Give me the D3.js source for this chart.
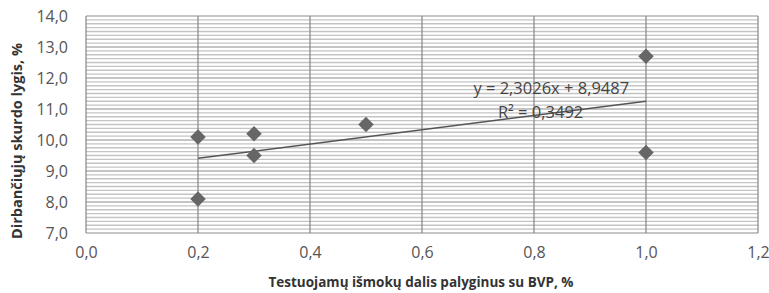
<!DOCTYPE html>
<html>
<head>
<meta charset="utf-8">
<script src="https://cdn.jsdelivr.net/npm/d3@7"></script>
<style>
  body { margin: 0; background: #fff; }
  svg { display: block; }
  text { font-family: "Open Sans", "Noto Sans", sans-serif; }
</style>
</head>
<body>
<div id="chart"></div>
<script>
// data
const xValues = [0.2, 0.2, 0.3, 0.3, 0.5, 1.0, 1.0];
const yValues = [10.1, 8.1, 10.2, 9.5, 10.5, 12.7, 9.6];
const xTicks = [0, 0.2, 0.4, 0.6, 0.8, 1.0, 1.2];
const yTicks = [7, 8, 9, 10, 11, 12, 13, 14];
const trendSlope = 2.3026;
const trendIntercept = 8.9487;
const trendR2 = 0.3492;
const xTitle = "Testuojamų išmokų dalis palyginus su BVP, %";
const yTitle = "Dirbančiųjų skurdo lygis, %";

const width = 769, height = 293;
const margin = {top: 16, right: 11, bottom: 60, left: 86};
const w = width - margin.left - margin.right;
const h = height - margin.top - margin.bottom;

const fmt = d => d3.format(".1f")(d).replace(".", ",");

const svg = d3.select("#chart").append("svg")
  .attr("width", width)
  .attr("height", height);

const g = svg.append("g")
  .attr("transform", "translate(" + margin.left + "," + margin.top + ")");

const x = d3.scaleLinear().domain([0, 1.2]).range([0, w]);
const y = d3.scaleLinear().domain([7, 14]).range([h, 0]);

// minor horizontal grid
const minor = d3.range(7, 14, 0.125).filter(v => Math.abs(v - Math.round(v)) > 1e-6);
g.append("g").selectAll("line").data(minor).enter().append("line")
  .attr("x1", 0).attr("x2", w)
  .attr("y1", d => y(d)).attr("y2", d => y(d))
  .attr("stroke", "#c4c4c4").attr("stroke-width", 1.3);

// major horizontal grid
g.append("g").selectAll("line").data(yTicks).enter().append("line")
  .attr("x1", 0).attr("x2", w)
  .attr("y1", d => y(d)).attr("y2", d => y(d))
  .attr("stroke", "#8c8c8c").attr("stroke-width", 1.2);

// vertical grid
g.append("g").selectAll("line").data(xTicks).enter().append("line")
  .attr("x1", d => x(d)).attr("x2", d => x(d))
  .attr("y1", 0).attr("y2", h)
  .attr("stroke", "#858585").attr("stroke-width", 1.2);

// axes (labels only)
const xAxis = g.append("g")
  .attr("transform", "translate(0," + h + ")")
  .call(d3.axisBottom(x).tickValues(xTicks).tickFormat(fmt).tickSize(0).tickPadding(14));
const yAxis = g.append("g")
  .call(d3.axisLeft(y).tickValues(yTicks).tickFormat(fmt).tickSize(0).tickPadding(18));
[xAxis, yAxis].forEach(a => {
  a.select(".domain").remove();
  a.selectAll("text")
    .style("font-family", "'Open Sans', 'Noto Sans', sans-serif")
    .style("font-size", "16px")
    .attr("fill", "#555");
});

// trendline
const xr = d3.extent(xValues);
g.append("line")
  .attr("x1", x(xr[0])).attr("y1", y(trendIntercept + trendSlope * xr[0]))
  .attr("x2", x(xr[1])).attr("y2", y(trendIntercept + trendSlope * xr[1]))
  .attr("stroke", "#555").attr("stroke-width", 1.4);

// points
const pts = xValues.map((v, i) => ({x: v, y: yValues[i]}));
g.append("g").selectAll("path").data(pts).enter().append("path")
  .attr("d", d3.symbol().type(d3.symbolSquare).size(120))
  .attr("transform", d => "translate(" + x(d.x) + "," + y(d.y) + ") rotate(45)")
  .attr("fill", "#666");

// equation labels
const eq = g.append("g").attr("fill", "#444").style("font-size", "16.5px");
eq.append("text")
  .attr("x", x(0.97)).attr("y", y(11.47))
  .attr("text-anchor", "end")
  .text("y = " + String(trendSlope).replace(".", ",") + "x + " + String(trendIntercept).replace(".", ","));
eq.append("text")
  .attr("x", x(0.888)).attr("y", y(10.72))
  .attr("text-anchor", "end")
  .text("R² = " + String(trendR2).replace(".", ","));

// axis titles
svg.append("text")
  .attr("x", 421).attr("y", height - 6)
  .attr("text-anchor", "middle")
  .style("font-size", "13.5px").style("font-weight", "bold")
  .attr("fill", "#333")
  .text(xTitle);
svg.append("text")
  .attr("transform", "translate(22,141) rotate(-90)")
  .attr("text-anchor", "middle")
  .style("font-size", "14.5px").style("font-weight", "bold")
  .attr("fill", "#333")
  .text(yTitle);
</script>
</body>
</html>
